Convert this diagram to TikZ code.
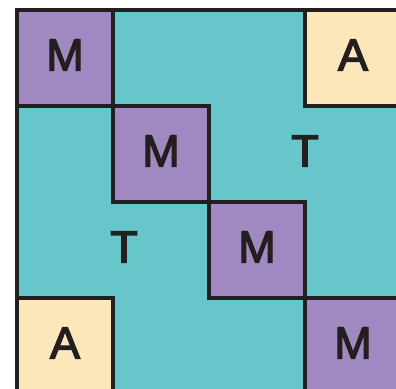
\documentclass[tikz,border=0pt]{standalone}
\usepackage{fontspec}
\setmainfont{Liberation Sans}
\newfontfamily\mxfont[FakeBold=3]{Liberation Sans}
\definecolor{mxteal}{RGB}{102,198,201}
\definecolor{mxpurple}{RGB}{160,137,193}
\definecolor{mxyellow}{RGB}{252,231,187}
\definecolor{mxline}{RGB}{35,31,32}
\begin{document}
\begin{tikzpicture}[
  x=0.025cm,
  y=-0.025cm,
  every node/.style={inner sep=0pt, outer sep=0pt},
  letter/.style={font=\mxfont\fontsize{32}{32}\selectfont, text=mxline},
  cell/.style={letter, draw=mxline, line width=0.1cm, minimum size=2.4cm, text depth=0.15cm},
  mcell/.style={cell, fill=mxpurple},
  acell/.style={cell, fill=mxyellow},
  border/.style={draw=mxline, line width=0.1cm}
]

  \path[use as bounding box] (0,0) rectangle (396,389);
  \clip (0,0) rectangle (396,389);

  % Teal background of the whole matrix
  \draw[border, fill=mxteal] (17,10) rectangle (401,394);

  % Diagonal blocks
  \node[mcell] (m1) at (65,58) {M};
  \node[mcell] (m2) at (161,154) {M};
  \node[mcell] (m3) at (257,250) {M};
  \node[mcell] (m4) at (353,346) {M};

  % Corner blocks
  \node[acell] (a1) at (353,58) {A};
  \node[acell] (a2) at (65,346) {A};

  % Off-diagonal labels
  \node[letter] (t1) at (305,151) {T};
  \node[letter] (t2) at (124,247) {T};

\end{tikzpicture}
\end{document}
